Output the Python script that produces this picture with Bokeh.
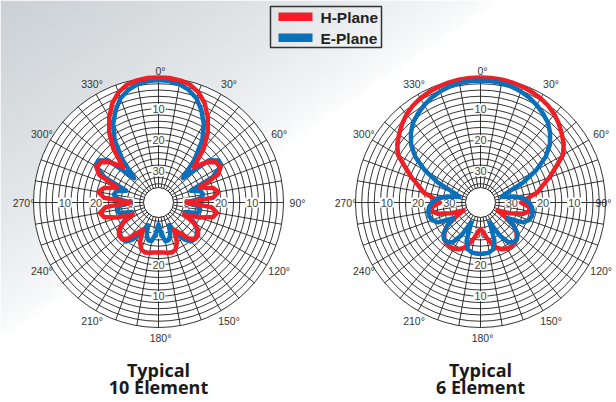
import numpy as np
from bokeh.plotting import figure
from bokeh.models import Range1d
from bokeh.core.properties import value
from bokeh.embed import file_html
from bokeh.resources import INLINE

# ---------------- data ----------------
angles_deg = list(range(0, 360, 5))

# attenuation in dB (0 = outer ring), angles 0..355 step 5
h_plane_10 = [0, 0, 0.3, 1, 2.5, 5, 8.5, 12.5, 17.5, 24,
              20, 17.5, 17, 19, 26, 22, 20.5, 22.5, 31,
              23, 21, 22, 26, 31, 27, 24.5, 23.5, 23.5, 25, 28, 30,
              26, 24, 23.4, 23.7, 23.9, 24,
              23.9, 23.7, 23.4, 24, 26, 30, 28, 25, 23.5, 23.5, 24.5, 27,
              31, 26, 22, 21, 23, 31, 22.5, 20.5, 22, 26, 19, 17, 17.5, 20,
              24, 17.5, 12.5, 8.5, 5, 2.5, 1, 0.3, 0]
e_plane_10 = [0.8, 1, 1.5, 2.7, 4.5, 7.5, 11, 15.5, 22, 29,
              19, 16.5, 17, 21, 29, 26, 25.5, 27, 31,
              27.5, 26.5, 27, 31, 29, 26.5, 25, 24, 23.5, 23.7, 25.5, 29, 32,
              29, 27.5, 27.5, 30, 33,
              30, 27.5, 27.5, 29, 32, 29, 25.5, 23.7, 23.5, 24, 25, 26.5, 29,
              31, 27, 26.5, 27.5, 31, 27, 25.5, 26, 29, 21, 17, 16.5, 19,
              29, 22, 15.5, 11, 7.5, 4.5, 2.7, 1.5, 1]
h_plane_6 = [0, 0, 0.1, 0.3, 0.6, 1, 1.5, 2.2, 3.2, 4.5, 6, 7.5, 9.5,
             13.5, 16.5, 19.5, 21.5, 25, 27, 24.5, 24, 26, 30, 34, 31, 27,
             25, 23.5, 23, 22.8, 23, 23.5, 24.5, 26.5, 28.5, 30.5, 31.5,
             30.5, 28.5, 26.5, 24.5, 23.5, 23, 22.8, 23, 23.5, 25, 27, 31,
             34, 30, 26, 24, 24.5, 27, 25, 21.5, 19.5, 16.5, 13.5,
             9.5, 7.5, 6, 4.5, 3.2, 2.2, 1.5, 1, 0.6, 0.3, 0.1, 0]
e_plane_6 = [1, 1, 1.2, 1.6, 2.2, 3, 4, 5.2, 6.5, 8.5, 11, 14.5, 19.5,
             25, 31, 33, 29, 26, 24.5, 23.5, 23, 23, 23.5, 25, 30,
             27, 24.5, 23.5, 23.4, 24.5, 28, 33, 27, 24.5, 23.8, 23.6, 23.5,
             23.6, 23.8, 24.5, 27, 33, 28, 24.5, 23.4, 23.5, 24.5, 27,
             30, 25, 23.5, 23, 23, 23.5, 24.5, 26, 29, 33, 31, 25,
             19.5, 14.5, 11, 8.5, 6.5, 5.2, 4, 3, 2.2, 1.6, 1.2, 1]

ring_db = list(range(0, 36, 2))
ring_label_db = [10, 20, 30]
spoke_deg = list(range(0, 360, 10))
angle_label_deg = list(range(0, 360, 30))
angle_labels = [f"{a}\u00b0" for a in angle_label_deg]
chart_titles = [("Typical", "10 Element"), ("Typical", "6 Element")]
series_names = ["H-Plane", "E-Plane"]

# ---------------- style / geometry ----------------
RED = "#ee1f26"
BLUE = "#0a70ba"
GRID = "#1e1e1e"
DB_MAX = 40.0
R = 125.0
R_HOLE = 15.0
centers = [(158.0, 202.0), (480.0, 202.0)]
W, H = 612, 398

p = figure(width=W, height=H, x_range=Range1d(0, W), y_range=Range1d(H, 0),
           output_backend="svg", toolbar_location=None, min_border=0,
           x_axis_type=None, y_axis_type=None)
p.grid.visible = False
p.outline_line_color = None
p.background_fill_color = "white"
p.border_fill_color = "white"

# background gradient (grey top-left to white)
nx, ny = 150, 100
xs = np.linspace(0, W, nx)
ys = np.linspace(0, H, ny)
X, Y = np.meshgrid(xs, ys)
f = np.clip(1 - X / 500.0 - Y / 340.0, 0, 1) ** 0.7
img = np.zeros((ny, nx), dtype=np.uint32)
view = img.view(dtype=np.uint8).reshape((ny, nx, 4))
view[:, :, 0] = (255 - 52 * f).astype(np.uint8)
view[:, :, 1] = (255 - 46 * f).astype(np.uint8)
view[:, :, 2] = (255 - 42 * f).astype(np.uint8)
view[:, :, 3] = 255
p.image_rgba(image=[img], x=0, y=0, dw=W, dh=H)


def to_xy(cx, cy, deg, r):
    t = np.radians(np.asarray(deg, dtype=float))
    r = np.asarray(r, dtype=float)
    return cx + r * np.sin(t), cy - r * np.cos(t)


def db_to_r(db):
    return R * (1 - np.asarray(db, dtype=float) / DB_MAX)


patterns = [(h_plane_10, e_plane_10, "blue_first"), (h_plane_6, e_plane_6, "red_first")]
label_r = {0: R + 7, 180: R + 10}

for ci, ((cx, cy), (hp, ep, order), titles) in enumerate(zip(centers, patterns, chart_titles)):
    # white disc
    p.circle(x=[cx], y=[cy], radius=R, fill_color="white", line_color=None)
    # rings
    rr = db_to_r(ring_db)
    p.circle(x=[cx] * len(rr), y=[cy] * len(rr), radius=list(rr), fill_color=None,
             line_color=GRID, line_width=0.9)
    # spokes
    sx, sy = [], []
    for a in spoke_deg:
        x0, y0 = to_xy(cx, cy, [a, a], [R_HOLE, R])
        sx.append(list(x0)); sy.append(list(y0))
    p.multi_line(xs=sx, ys=sy, line_color=GRID, line_width=0.9)
    # dB labels on 4 axes
    lx, ly, lt = [], [], []
    for a in [0, 90, 180, 270]:
        for d in ring_label_db:
            x0, y0 = to_xy(cx, cy, [a], [db_to_r(d)])
            lx.append(x0[0]); ly.append(y0[0]); lt.append(str(d))
    p.text(x=lx, y=ly, text=lt, text_align="center", text_baseline="middle",
           text_font=value("Liberation Sans"), text_font_size="11px", text_color="#444444",
           background_fill_color="white", padding=1)
    # angle labels
    for a, t in zip(angle_label_deg, angle_labels):
        xa, ya = to_xy(cx, cy, [a], [label_r.get(a, R + 12)])
        xa = float(xa[0]) + 2
        align = "center"
        if xa > W - 10:
            xa, align = W - 1, "right"
        p.text(x=[xa], y=[float(ya[0])], text=[t], text_align=align,
               text_baseline="middle", text_font=value("Liberation Sans"),
               text_font_size="10.5px", text_color="#333333")

    hx, hy = to_xy(cx, cy, angles_deg + [angles_deg[0]], db_to_r(hp + [hp[0]]))
    ex, ey = to_xy(cx, cy, angles_deg + [angles_deg[0]], db_to_r(ep + [ep[0]]))
    if order == "blue_first":
        p.line(ex, ey, line_color=BLUE, line_width=4.5, line_join="round")
        p.line(hx, hy, line_color=RED, line_width=4.5, line_join="round")
    else:
        p.line(hx, hy, line_color=RED, line_width=4.5, line_join="round")
        p.line(ex, ey, line_color=BLUE, line_width=4.5, line_join="round")

    # centre hole
    p.circle(x=[cx], y=[cy], radius=R_HOLE, fill_color="white", line_color=GRID, line_width=1)

    # titles
    p.text(x=[cx, cx], y=[369, 386], text=list(titles), text_align="center",
           text_baseline="middle", text_font=value("Open Sans"), text_font_style="bold",
           text_font_size="18px", text_color="#1a1a1a")

# legend
p.quad(left=[270], right=[381], top=[6], bottom=[47], fill_color=None,
       line_color="#333333", line_width=1.5)
p.quad(left=[278, 278], right=[312, 312], top=[12, 33], bottom=[20.5, 41.5],
       fill_color=[RED, BLUE], line_color=None)
p.text(x=[320, 320], y=[17, 38], text=series_names, text_align="left",
       text_baseline="middle", text_font=value("Liberation Sans"), text_font_style="bold",
       text_font_size="15.5px", text_color="#222222")

open("out.html", "w").write(file_html(p, INLINE))
